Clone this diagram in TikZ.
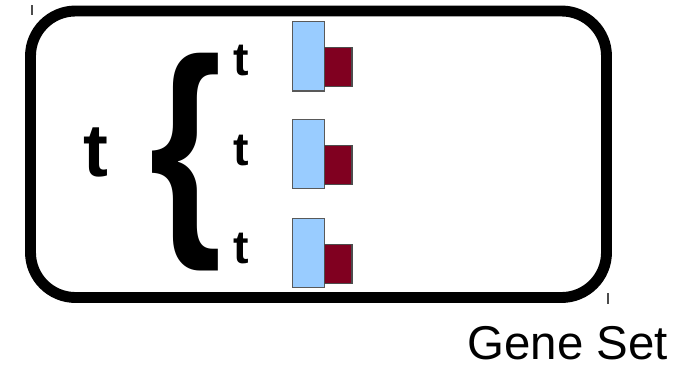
\documentclass[tikz,border=0pt]{standalone}
\usepackage{fontspec}
\setmainfont{Liberation Sans}
\usetikzlibrary{positioning}

\definecolor{paleblue}{RGB}{153,204,255}
\definecolor{bordeaux}{RGB}{128,0,32}

\begin{document}
\begin{tikzpicture}[x=0.02cm, y=-0.02cm,
    genebox/.style={draw=black!65, line width=0.6pt, fill=paleblue},
    exonbox/.style={draw=black!70, line width=0.6pt, fill=bordeaux},
    tlabel/.style={font=\fontsize{26.5}{26.5}\selectfont\bfseries, inner sep=0pt}]
    \useasboundingbox (0,0) rectangle (683,366);

    % the set frame
    \draw[line width=6.2pt, rounded corners=0.9cm] (30.5,11) rectangle (606.5,297.5);
    \draw[black!70, line width=0.6pt] (32,5) -- (32,15);
    \draw[black!70, line width=0.6pt] (608,293) -- (608,304);

    \node[font=\fontsize{42.5}{42.5}\selectfont\bfseries, inner sep=0pt] (bigt) at (95.5,152) {t};
    \node[font=\fontsize{133}{133}\selectfont\bfseries, inner sep=-6pt] (brace) at (186,161.7) {\scalebox{0.8}[1]{\{}};

    % three genes, each a t with its two blocks
    \foreach \n/\top/\ty in {1/21.7/60.3, 2/119.3/150.2, 3/218.3/248.9} {
        \draw[genebox] (292.7,\top) rectangle +(31.6,69.3);
        \draw[exonbox] (324.3,\top+26) rectangle +(27.7,39);
        \node[tlabel] (t\n) at (241.5,\ty) {t};
    }

    \node[font=\fontsize{27}{27}\selectfont, anchor=base west, inner sep=0pt] (setname) at (467,359.5) {Gene Set};
\end{tikzpicture}
\end{document}
